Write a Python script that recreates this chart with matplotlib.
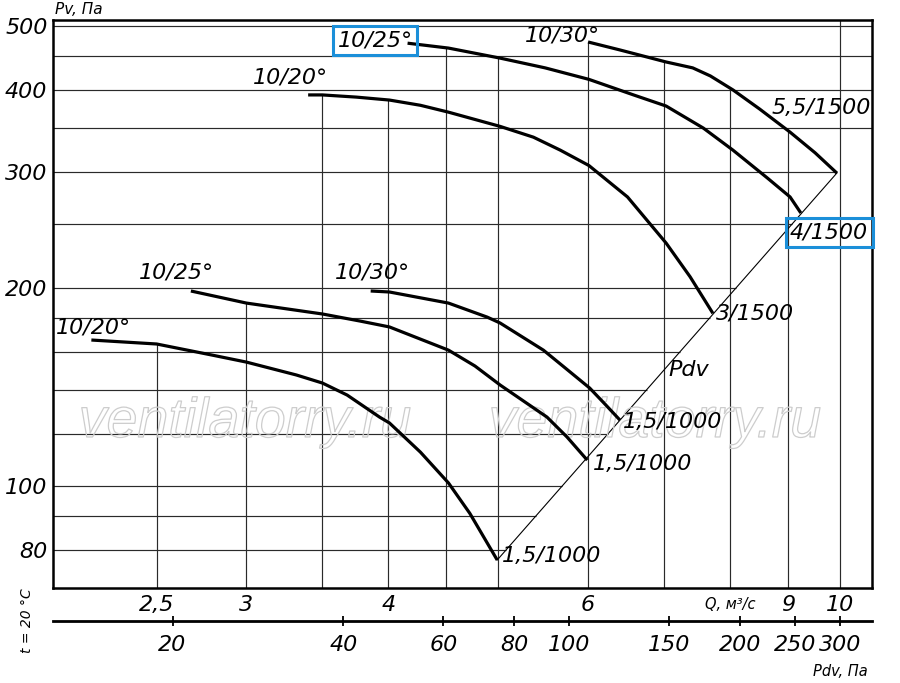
import numpy as np
import matplotlib
matplotlib.use('Agg')
import matplotlib.pyplot as plt
import matplotlib.patheffects as pe
from matplotlib.ticker import NullLocator

plt.rcParams['font.family'] = ['DejaVu Sans']
plt.rcParams['font.style'] = 'italic'

# Характеристики, 1500 об/мин (Q, м3/с ; Pv, Па)
q_20_1500 = [3.40, 3.50, 3.75, 4.01, 4.27, 4.52, 5.02, 5.37, 5.67, 6.01, 6.50, 7.03, 7.38, 7.73]
p_20_1500 = [393, 393, 390, 386, 379, 370, 352, 339, 324, 307, 275, 234, 208, 183]
q_25_1500 = [4.16, 4.52, 5.02, 5.50, 6.01, 6.58, 7.03, 7.58, 8.05, 8.63, 9.04, 9.24]
p_25_1500 = [471, 463, 447, 432, 415, 393, 378, 350, 324, 294, 275, 260]
q_30_1500 = [6.00, 6.40, 7.03, 7.42, 7.69, 8.05, 8.50, 9.04, 9.51, 9.94]
p_30_1500 = [473, 460, 441, 432, 420, 400, 374, 345, 321, 299]

# Характеристики, 1000 об/мин
q_20_1000 = [2.19, 2.50, 2.80, 3.00, 3.32, 3.50, 3.68, 3.93, 4.01, 4.27, 4.52, 4.72, 4.99]
p_20_1000 = [166.7, 164.4, 158.1, 154.3, 147.5, 143.4, 137.5, 127.3, 124.7, 112.6, 101.1, 90.9, 77.2]
q_25_1000 = [2.68, 3.00, 3.50, 3.78, 4.01, 4.52, 4.77, 5.02, 5.52, 5.75, 5.99]
p_25_1000 = [197.9, 189.7, 182.6, 178.1, 174.5, 160.9, 152.2, 142.4, 127.3, 118.7, 109.5]
q_30_1000 = [3.86, 4.01, 4.52, 4.89, 5.02, 5.48, 5.73, 6.02, 6.21, 6.40]
p_30_1000 = [197.9, 197.2, 189.7, 180.6, 176.9, 160.9, 151.1, 140.9, 133.2, 126.0]

curves = [(q_20_1500, p_20_1500), (q_25_1500, p_25_1500), (q_30_1500, p_30_1500),
          (q_20_1000, p_20_1000), (q_25_1000, p_25_1000), (q_30_1000, p_30_1000)]

# линия динамического давления Pdv
q_pdv = [4.99, 9.94]
p_pdv = [77.2, 299]

# сетка и подписи осей
q_grid = [2.5, 3, 3.5, 4, 4.5, 5, 6, 7, 8, 9, 10]
p_grid = [80, 90, 100, 120, 140, 160, 180, 200, 250, 300, 350, 400, 450, 500]
q_ticks = [2.5, 3, 4, 6, 9, 10]
q_ticklabels = ['2,5', '3', '4', '6', '9', '10']
p_ticks = [80, 100, 200, 300, 400, 500]
pdv_ticks = [20, 40, 60, 80, 100, 150, 200, 250, 300]

curve_labels = ['10/25°', '10/30°', '10/20°', '5,5/1500', '4/1500', '3/1500', 'Pdv',
                '1,5/1000', '1,5/1000', '1,5/1000', '10/25°', '10/30°', '10/20°']

q_min, q_max = 2.026, 10.675
p_min, p_max = 70.0, 510.8

fig = plt.figure(figsize=(9, 6.83), dpi=100)
ax = fig.add_axes([53 / 900, 95 / 683, 819 / 900, 568 / 683])
ax.set_xscale('log')
ax.set_yscale('log')
ax.set_xlim(q_min, q_max)
ax.set_ylim(p_min, p_max)

grid_kw = dict(color='#2a2a2a', lw=0.85, zorder=1)

# горизонтальные линии: до линии Pdv или до правого края
lq_pdv, lp_pdv = np.log10(q_pdv), np.log10(p_pdv)
for p in p_grid:
    if p > p_pdv[-1] * 1.05:
        q_end = q_max
    else:
        q_end = 10 ** np.interp(np.log10(p), lp_pdv, lq_pdv)
    ax.hlines(p, q_min, q_end, **grid_kw)

# вертикальные линии: от низа до верхней характеристики
for q in q_grid:
    tops = []
    for cq, cp in curves:
        if cq[0] - 0.02 <= q <= cq[-1]:
            tops.append(10 ** np.interp(np.log10(q), np.log10(cq), np.log10(cp)))
    top = max(tops) if tops else p_max
    ax.vlines(q, p_min, top, **grid_kw)

ax.plot(q_pdv, p_pdv, color='black', lw=0.8, zorder=2)

for cq, cp in curves:
    ax.plot(cq, cp, color='black', lw=2.3, solid_capstyle='butt',
            solid_joinstyle='round', zorder=3)

# водяной знак
for qw in [2.99, 6.87]:
    ax.text(qw, 124.7, 'ventilatorry.ru', fontsize=40, family='Liberation Sans',
            style='italic', ha='center', va='center', color='none', zorder=2,
            path_effects=[pe.Stroke(linewidth=0.9, foreground='#cdcdcd')])

# подписи кривых
label_pos = [(3.61, 476), (5.28, 483), (3.04, 417), (8.71, 375), (9.04, 243),
             (7.78, 183), (7.06, 150), (6.44, 125), (6.06, 108), (5.04, 78.3),
             (2.41, 211), (3.59, 211), (2.04, 174)]
boxed = {0, 4}
for i, (txt, (lq, lp)) in enumerate(zip(curve_labels, label_pos)):
    bb = None
    if i in boxed:
        bb = dict(boxstyle='square,pad=0.2', fc='none', ec='#1b8fd9', lw=2.2)
    ax.text(lq, lp, txt, fontsize=16, ha='left', va='center', bbox=bb, zorder=4)

# оси
for s in ax.spines.values():
    s.set_linewidth(1.8)
ax.set_xticks(q_ticks, q_ticklabels)
ax.set_yticks(p_ticks, [str(v) for v in p_ticks])
ax.xaxis.set_minor_locator(NullLocator())
ax.yaxis.set_minor_locator(NullLocator())
ax.tick_params(axis='x', length=0, pad=5, labelsize=16)
ax.tick_params(axis='y', length=0, pad=4, labelsize=16)
ax.text(8, -0.037, 'Q, м³/с', transform=ax.get_xaxis_transform(), fontsize=10.5,
        ha='center', va='baseline')

# шкала динамического давления
sec = ax.secondary_xaxis(-33 / 568, functions=(lambda q: 3 * q ** 2,
                                               lambda p: np.sqrt(np.abs(p) / 3)))
sec.set_xticks(pdv_ticks, [str(v) for v in pdv_ticks])
sec.xaxis.set_minor_locator(NullLocator())
sec.tick_params(direction='inout', length=7, width=1.3, pad=6.5, labelsize=16)
sec.spines['bottom'].set_linewidth(2)

fig.text(55 / 900, 1 - 9 / 683, 'Pv, Па', fontsize=11, ha='left', va='center')
fig.text(868 / 900, 1 - 672 / 683, 'Pdv, Па', fontsize=10.5, ha='right', va='center')
fig.text(27 / 900, 1 - 621 / 683, 't = 20 °С', fontsize=10, rotation=90,
         ha='center', va='center')

fig.savefig('out.png', dpi=100)
